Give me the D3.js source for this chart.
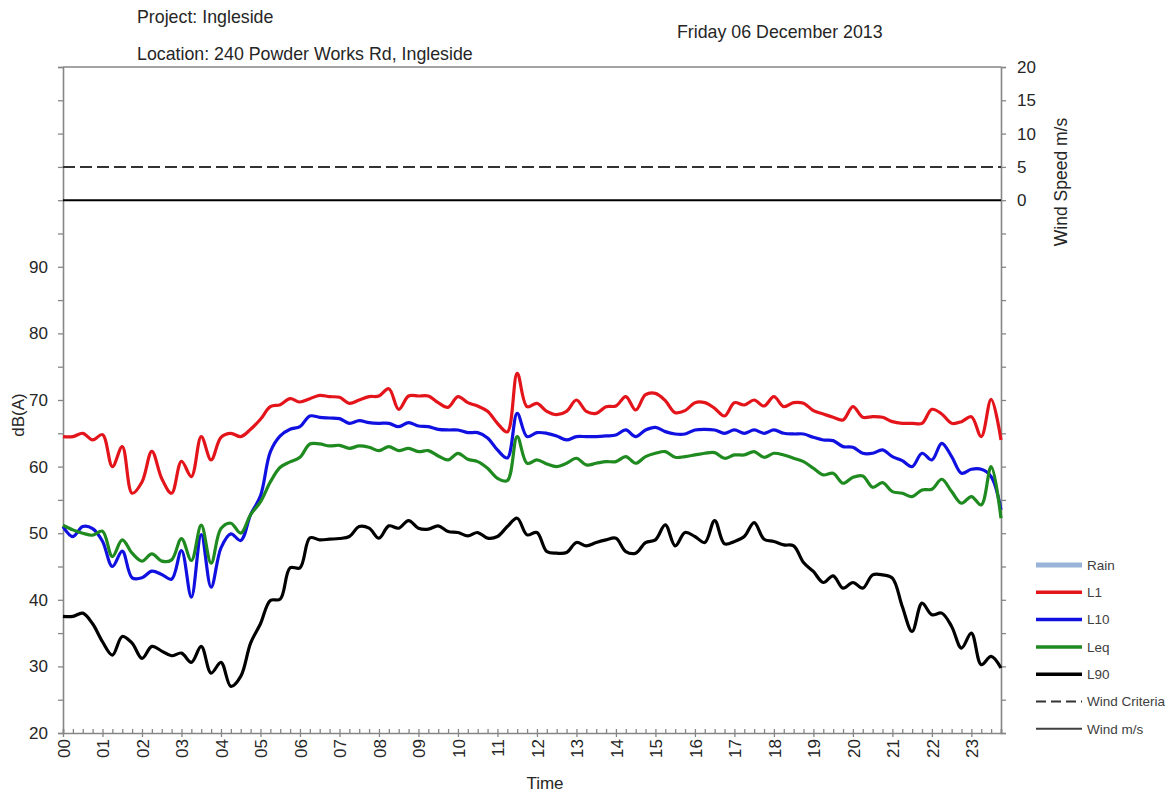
<!DOCTYPE html>
<html>
<head>
<meta charset="utf-8">
<script src="https://cdn.jsdelivr.net/npm/d3@7"></script>
<style>
	body { margin: 0; background: #fff; }
	svg { display: block; font-family: "Liberation Sans", Arial, sans-serif; }
</style>
</head>
<body>
<div id="chart"></div>
<script>
// 15 minute intervals through the day (hours)
var times = d3.range(96).map(function(i) { return i / 4; });

var l1 = [64.5, 64.5, 65, 64, 64.8, 60, 63, 56, 57.7, 62.3, 58.2, 56, 60.8, 58.5, 64.5, 61, 64.4, 65, 64.5, 65.6, 67.1, 69, 69.3, 70.2, 69.7, 70.2, 70.7,
	70.5, 70.4, 69.5, 70, 70.5, 70.6, 71.7, 68.6, 70.6, 70.6, 70.6, 69.6, 68.9, 70.5, 69.6, 69.1, 68.3, 66.5, 65.2, 74, 69, 69.5, 68.3, 67.8, 68.3, 70, 68.3, 68, 69, 69.1, 70.5, 68.5, 70.8,
	71, 69.9, 68.1, 68.4, 69.6, 69.6, 68.75, 67.6, 69.6, 69.25, 70, 69.1, 70.5, 69, 69.6, 69.5, 68.4, 67.9, 67.4, 67, 69, 67.4, 67.5, 67.4, 66.75, 66.5, 66.5, 66.5, 68.6, 67.9, 66.5, 66.75, 67.5, 64.5, 70.1, 64];

var l10 = [51, 49.5, 51, 50.7, 48.8, 45, 47.3, 43.3, 43.3, 44.3, 43.8, 43.1, 47.4, 40.4, 49.8, 41.9, 47.8, 49.9, 48.9, 52.8, 55.6, 62.2, 64.6, 65.6, 66, 67.6, 67.4,
	67.3, 67.2, 66.5, 66.9, 66.6, 66.5, 66.5, 66, 66.6, 66.1, 66, 65.6, 65.5, 65.5, 65.1, 65.1, 64.3, 62.5, 61.3, 68, 64.5, 65.1, 65, 64.6, 64, 64.5, 64.5, 64.5, 64.6, 64.75, 65.5, 64.5, 65.5,
	65.9, 65.25, 64.9, 64.9, 65.5, 65.6, 65.5, 65, 65.5, 65, 65.5, 65, 65.5, 65, 64.9, 64.9, 64.4, 64, 63.9, 63, 62.9, 62, 62, 62.5, 61.5, 60.9, 60, 62, 61, 63.5, 61.5, 59, 59.6, 59.6, 58.5, 53.5];

var leq = [51.2, 50.5, 50, 49.7, 50.3, 46.5, 49, 47, 45.8, 46.9, 45.8, 46, 49.2, 45.9, 51.2, 45.5, 50.7, 51.5, 50, 52.8, 54.7, 57.7, 59.9, 60.7, 61.4, 63.4, 63.4,
	63.1, 63.2, 62.75, 63.1, 62.9, 62.4, 63, 62.4, 62.75, 62.25, 62.4, 61.6, 61, 62, 61.1, 60.75, 59.75, 58.25, 57.9, 64.5, 60.5, 61, 60.4, 60, 60.5, 61.25, 60.25, 60.5, 60.75, 60.75, 61.5, 60.5, 61.5,
	62, 62.25, 61.4, 61.5, 61.75, 62, 62.1, 61.25, 61.75, 61.75, 62.25, 61.4, 62, 61.75, 61.25, 60.75, 59.75, 58.75, 59, 57.5, 58.4, 58.6, 56.9, 57.6, 56.25, 56, 55.5, 56.5, 56.6, 58.1, 56.25, 54.5, 55.5, 54.25, 60, 52.25];

var l90 = [37.5, 37.5, 38, 36.4, 33.7, 31.7, 34.5, 33.5, 31.2, 33, 32.3, 31.6, 32, 30.6, 33, 29, 30.6, 27, 28.5, 33.5, 36.4, 39.9, 40.1, 44.8, 44.8, 49.3, 49,
	49.1, 49.2, 49.5, 51, 50.75, 49.25, 51.1, 50.75, 51.9, 50.75, 50.6, 51.1, 50.25, 50.1, 49.6, 50.1, 49.25, 49.5, 51, 52.25, 49.75, 50.1, 47.25, 47, 47.1, 48.6, 48.1, 48.6, 49, 49.25, 47.25, 47, 48.6,
	49, 51.25, 48.1, 50.1, 49.5, 48.6, 51.9, 48.4, 48.75, 49.5, 51.6, 49.1, 48.75, 48.25, 48.1, 45.6, 44.25, 42.6, 43.6, 41.75, 42.6, 41.75, 43.75, 43.75, 43.25, 39, 35.25, 39.5, 37.75, 38, 36, 32.75, 35, 30.25, 31.5, 29.75];

var windCriteria = 5;
var windSpeed = 0;

var dbTicks = [20, 30, 40, 50, 60, 70, 80, 90];
var windTicks = [0, 5, 10, 15, 20];

var series = [
	{ name: "L1", values: l1, color: "#e4141b" },
	{ name: "L10", values: l10, color: "#1010e0" },
	{ name: "Leq", values: leq, color: "#1f8a1f" },
	{ name: "L90", values: l90, color: "#000000" }
];

var width = 1175, height = 795;
var plotLeft = 63, plotRight = 1001, plotTop = 67, plotBottom = 733;
var axisColor = "#868686", textColor = "#262626";

var svg = d3.select("#chart").append("svg")
	.attr("width", width)
	.attr("height", height);

svg.append("rect").attr("width", width).attr("height", height).attr("fill", "#fff");

var x = d3.scaleLinear().domain([0, 23.75]).range([plotLeft, plotRight]);
// dB and wind share one vertical grid: 20 m/s sits on top of 100 dB
var y = d3.scaleLinear().domain([20, 120]).range([plotBottom, plotTop]);
var yWind = d3.scaleLinear().domain([-80, 20]).range([plotBottom, plotTop]);

// titles
svg.append("text").attr("x", 137).attr("y", 23).attr("font-size", 17.8).attr("fill", textColor).text("Project: Ingleside");
svg.append("text").attr("x", 137).attr("y", 60).attr("font-size", 17.8).attr("fill", textColor).text("Location: 240 Powder Works Rd, Ingleside");
svg.append("text").attr("x", 677).attr("y", 38).attr("font-size", 17.8).attr("fill", textColor).text("Friday 06 December 2013");

// top border
svg.append("line")
	.attr("x1", plotLeft).attr("x2", plotRight)
	.attr("y1", plotTop).attr("y2", plotTop)
	.attr("stroke", axisColor).attr("stroke-width", 1.5);

// left axis
var leftAxis = svg.append("g")
	.attr("transform", "translate(" + plotLeft + ",0)")
	.call(d3.axisLeft(y)
		.tickValues(d3.range(20, 121, 5))
		.tickSize(5)
		.tickPadding(10)
		.tickFormat(function(d) { return dbTicks.indexOf(d) >= 0 ? d : ""; }));

// right axis
var rightAxis = svg.append("g")
	.attr("transform", "translate(" + plotRight + ",0)")
	.call(d3.axisRight(yWind)
		.tickValues(d3.range(-80, 21, 5))
		.tickSize(5)
		.tickPadding(11)
		.tickFormat(function(d) { return windTicks.indexOf(d) >= 0 ? d : ""; }));

// bottom axis, quarter hour ticks pointing in, hour ticks pointing out
var minorAxis = svg.append("g")
	.attr("transform", "translate(0," + plotBottom + ")")
	.call(d3.axisBottom(x).tickValues(times).tickSize(-4).tickFormat(""));

var hourAxis = svg.append("g")
	.attr("transform", "translate(0," + plotBottom + ")")
	.call(d3.axisBottom(x)
		.tickValues(d3.range(0, 24))
		.tickSize(4)
		.tickFormat(d3.format("02d")));
hourAxis.select(".domain").remove();
hourAxis.selectAll("text")
	.attr("transform", "rotate(-90)")
	.attr("text-anchor", "end")
	.attr("x", -6)
	.attr("y", 0)
	.attr("dy", "0.36em");

[leftAxis, rightAxis, minorAxis, hourAxis].forEach(function(a) {
	a.selectAll("path, line").attr("stroke", axisColor).attr("stroke-width", 1.3);
	a.selectAll("text").attr("font-size", 17).attr("fill", textColor).attr("font-family", "Liberation Sans, Arial, sans-serif");
});
leftAxis.select(".domain").attr("stroke-width", 1.6);
rightAxis.select(".domain").attr("stroke-width", 1.6);
minorAxis.select(".domain").attr("stroke-width", 1.6);

// axis titles
svg.append("text")
	.attr("transform", "translate(24,415) rotate(-90)")
	.attr("text-anchor", "middle")
	.attr("font-size", 17)
	.attr("fill", textColor)
	.text("dB(A)");

svg.append("text")
	.attr("transform", "translate(1067,182) rotate(-90)")
	.attr("text-anchor", "middle")
	.attr("font-size", 17.5)
	.attr("fill", textColor)
	.text("Wind Speed m/s");

svg.append("text")
	.attr("x", 545).attr("y", 789)
	.attr("text-anchor", "middle")
	.attr("font-size", 17)
	.attr("fill", textColor)
	.text("Time");

// wind lines
svg.append("line")
	.attr("x1", x(0)).attr("x2", x(23.75))
	.attr("y1", yWind(windCriteria)).attr("y2", yWind(windCriteria))
	.attr("stroke", "#333").attr("stroke-width", 2)
	.attr("stroke-dasharray", "12,5");

svg.append("line")
	.attr("x1", x(0)).attr("x2", x(23.75))
	.attr("y1", yWind(windSpeed)).attr("y2", yWind(windSpeed))
	.attr("stroke", "#000").attr("stroke-width", 2);

// noise series
var line = d3.line()
	.x(function(d) { return x(d[0]); })
	.y(function(d) { return y(d[1]); })
	.curve(d3.curveCatmullRom.alpha(0.5));

series.forEach(function(s) {
	svg.append("path")
		.datum(times.map(function(t, i) { return [t, s.values[i]]; }))
		.attr("fill", "none")
		.attr("stroke", s.color)
		.attr("stroke-width", 3.2)
		.attr("stroke-linejoin", "round")
		.attr("d", line);
});

// legend
var legendItems = [
	{ label: "Rain", color: "#98b4d8", width: 5, dash: null },
	{ label: "L1", color: series[0].color, width: 3.5, dash: null },
	{ label: "L10", color: series[1].color, width: 3.5, dash: null },
	{ label: "Leq", color: series[2].color, width: 3.5, dash: null },
	{ label: "L90", color: series[3].color, width: 3.5, dash: null },
	{ label: "Wind Criteria", color: "#333", width: 2, dash: "10,5" },
	{ label: "Wind m/s", color: "#404040", width: 2, dash: null }
];

var legend = svg.selectAll(".legend").data(legendItems).enter().append("g")
	.attr("class", "legend")
	.attr("transform", function(d, i) { return "translate(1036," + (565 + i * 27.3) + ")"; });

legend.append("line")
	.attr("x1", 0).attr("x2", 46)
	.attr("stroke", function(d) { return d.color; })
	.attr("stroke-width", function(d) { return d.width; })
	.attr("stroke-dasharray", function(d) { return d.dash; });

legend.append("text")
	.attr("x", 51)
	.attr("dy", "0.36em")
	.attr("font-size", 13.5)
	.attr("fill", "#404040")
	.text(function(d) { return d.label; });
</script>
</body>
</html>
